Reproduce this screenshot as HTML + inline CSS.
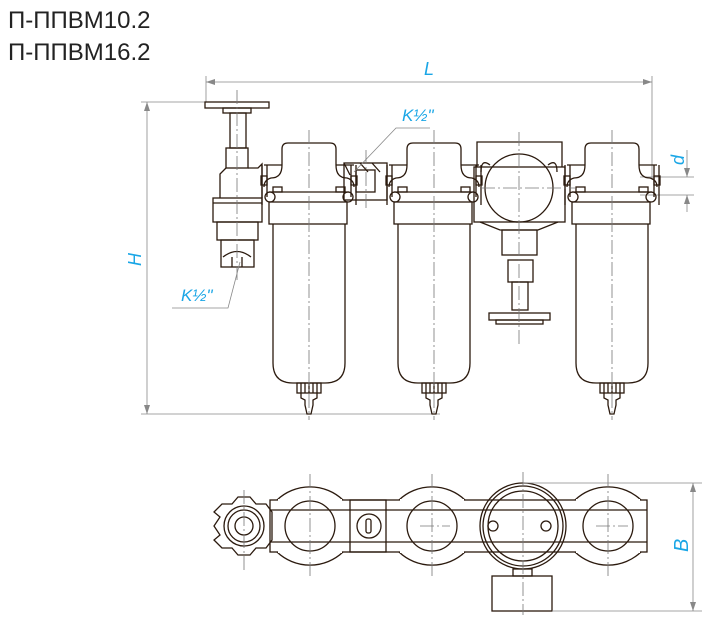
<!DOCTYPE html>
<html><head><meta charset="utf-8"><style>
html,body{margin:0;padding:0;background:#fff;}
svg{display:block}
.k{fill:none;stroke:#2b1a0e;stroke-width:1.3}
.c{fill:none;stroke:#777;stroke-width:0.8;stroke-dasharray:14 3 2 3}
.d{fill:none;stroke:#888;stroke-width:0.8}
.t{font-family:"Liberation Sans",sans-serif;fill:#1aa6e6;font-style:italic}
</style></head><body>
<svg width="712" height="624" viewBox="0 0 712 624" xmlns="http://www.w3.org/2000/svg">
<defs>
<marker id="a" markerWidth="10" markerHeight="10" refX="9" refY="3" orient="auto-start-reverse" markerUnits="userSpaceOnUse"><path d="M0,0 L9,3 L0,6 z" fill="#888"/></marker>
<g id="filt">
 <path class="k" d="M-27,165 L-27,149 Q-27,143 -21,143 L21,143 Q27,143 27,149 L27,165"/>
 <path class="k" d="M-27,165 Q-27,178 -38,178 Q-45,180 -45,187 M27,165 Q27,178 38,178 Q45,180 45,187"/>
 <path class="k" d="M-27,165 L-45,165 M27,165 L45,165"/>
 <path class="k" d="M-47,165 L-47,205 M-42,165 L-42,197 M47,165 L47,205 M42,165 L42,197"/>
 <path class="k" d="M-40,192 L40,192"/>
 <rect class="k" x="-36" y="187" width="9" height="5"/><rect class="k" x="27" y="187" width="9" height="5"/>
 <rect class="k" x="-48" y="176" width="6" height="9"/><rect class="k" x="42" y="176" width="6" height="9"/>
 <circle class="k" cx="-39" cy="197" r="5"/><circle class="k" cx="39" cy="197" r="5"/>
 <rect class="k" x="-40" y="202" width="78" height="22"/>
 <path class="k" d="M-36,224 L-36,363 Q-36,383 -16,383 L16,383 Q36,383 36,363 L36,224"/>
 <rect class="k" x="-12" y="383" width="24" height="10"/>
 <path class="k" d="M-8,383 V393 M-4,383 V393 M0,383 V393 M4,383 V393 M8,383 V393"/>
 <path class="k" d="M-8,393 L-8,398 L-4,400 L-4,405 L-2,414 L2,414 L4,405 L4,400 L8,398 L8,393"/>
 <line class="c" x1="0" y1="130" x2="0" y2="420"/>
</g>
<g id="bot">
 <path class="k" d="M-33,500 A48,48 0 0 1 33,500 M-33,552 A48,48 0 0 0 33,552" fill="#fff"/>
 <rect x="-32" y="499" width="64" height="2" fill="#fff"/>
 <rect x="-32" y="551" width="64" height="2" fill="#fff"/>
 <circle class="k" cx="0" cy="526" r="25" fill="#fff"/>
 <line class="c" x1="0" y1="474" x2="0" y2="578"/>
</g>
</defs>
<text x="8" y="28" font-family="Liberation Sans,sans-serif" font-size="24" fill="#222">П-ППВМ10.2</text>
<text x="8" y="60" font-family="Liberation Sans,sans-serif" font-size="24" fill="#222">П-ППВМ16.2</text>

<line class="d" x1="206" y1="76" x2="206" y2="102"/>
<line class="d" x1="652" y1="76" x2="652" y2="180"/>
<line class="d" x1="206" y1="82" x2="652" y2="82" marker-start="url(#a)" marker-end="url(#a)"/>
<text class="t" x="424" y="75" font-size="18">L</text>
<line class="d" x1="141" y1="102" x2="232" y2="102"/>
<line class="d" x1="141" y1="414" x2="440" y2="414"/>
<line class="d" x1="147" y1="102" x2="147" y2="414" marker-start="url(#a)" marker-end="url(#a)"/>
<text class="t" font-size="18" transform="translate(141,266) rotate(-90)">H</text>
<line class="d" x1="640" y1="177" x2="694" y2="177"/>
<line class="d" x1="640" y1="195" x2="694" y2="195"/>
<line class="d" x1="687" y1="150" x2="687" y2="177" marker-end="url(#a)"/>
<line class="d" x1="687" y1="212" x2="687" y2="195" marker-end="url(#a)"/>
<text class="t" font-size="18" transform="translate(684,165) rotate(-90)">d</text>

<rect class="k" x="205" y="102" width="64" height="6"/>
<rect class="k" x="223" y="108" width="28" height="5"/>
<rect class="k" x="230" y="113" width="16" height="35"/>
<rect class="k" x="226" y="148" width="22" height="20"/>
<path class="k" d="M226,168 L220,174 L220,198 M248,168 L258,168 L262,164 L262,198"/>
<rect class="k" x="213" y="198" width="49" height="24"/>
<line class="k" x1="213" y1="203" x2="262" y2="203"/>
<rect class="k" x="217" y="222" width="41" height="18"/>
<rect class="k" x="221" y="240" width="33" height="27"/>
<path class="k" d="M223,257 Q237,246 251,257 M232,257 V267 M242,257 V267"/>
<line class="c" x1="237" y1="90" x2="237" y2="280"/>

<use href="#filt" transform="translate(309,0)"/>
<use href="#filt" transform="translate(434,0)"/>
<use href="#filt" transform="translate(612,0)"/>

<rect class="k" x="344" y="163" width="43" height="37"/>
<rect class="k" x="356" y="170" width="19" height="22"/>
<path class="k" d="M344,163 L350,175 M360,163 L368,172 M372,163 L380,172"/>
<path class="d" d="M354,172 L396,128 L430,128"/>
<text class="t" x="402" y="121" font-size="17">K½"</text>
<line class="c" x1="366" y1="150" x2="366" y2="210"/>

<path class="k" d="M477,167 L477,142 L562,142 L562,167"/>
<rect class="k" x="474" y="167" width="91" height="55"/>
<circle class="k" cx="519" cy="188" r="34" fill="#fff"/>
<path class="k" d="M481,172 Q481,158 490,165 M557,172 Q557,158 548,165"/>
<path class="k" d="M480,222 L500,230 L538,230 L558,222"/>
<rect class="k" x="502" y="230" width="35" height="25"/>
<rect class="k" x="508" y="260" width="25" height="22"/>
<rect class="k" x="512" y="282" width="16" height="28"/>
<rect class="k" x="489" y="313" width="61" height="7"/>
<rect class="k" x="496" y="320" width="47" height="4"/>
<line class="c" x1="519" y1="132" x2="519" y2="345"/>
<line class="c" x1="481" y1="188" x2="575" y2="188"/>

<path class="d" d="M240,262 L228,308 L172,308"/>
<text class="t" x="181" y="301" font-size="17">K½"</text>

<rect class="k" x="270" y="500" width="377" height="52"/>
<line class="k" x1="270" y1="510" x2="647" y2="510"/>
<line class="k" x1="270" y1="542" x2="647" y2="542"/>
<use href="#bot" transform="translate(310,0)"/>
<use href="#bot" transform="translate(432,0)"/>
<use href="#bot" transform="translate(608,0)"/>
<rect class="k" x="350" y="500" width="36" height="52" fill="#fff"/>
<circle class="k" cx="369" cy="526" r="12"/>
<rect class="k" x="366" y="519" width="5" height="14" rx="2"/>
<path class="k" d="M214,512 L222,504 L232,504 L238,497 L250,497 L256,504 L266,504 L272,512 L272,540 L266,548 L256,548 L250,555 L238,555 L232,548 L222,548 L214,540 L220,535 L214,526 L220,517 Z" fill="#fff"/>
<circle class="k" cx="244" cy="526" r="20"/>
<circle class="k" cx="244" cy="526" r="16"/>
<circle class="k" cx="244" cy="526" r="9"/>
<line class="c" x1="244" y1="490" x2="244" y2="572"/>
<circle class="k" cx="523" cy="526" r="43" fill="#fff"/>
<circle class="k" cx="523" cy="526" r="40"/>
<circle class="k" cx="523" cy="526" r="35"/>
<circle class="k" cx="493" cy="526" r="5"/>
<circle class="k" cx="546" cy="526" r="5"/>
<rect class="k" x="513" y="569" width="19" height="7"/>
<rect class="k" x="492" y="576" width="60" height="35"/>
<line class="c" x1="523" y1="472" x2="523" y2="615"/>
<line class="c" x1="420" y1="526" x2="450" y2="526"/>
<line class="c" x1="596" y1="526" x2="628" y2="526"/>
<line class="d" x1="523" y1="483" x2="702" y2="483"/>
<line class="d" x1="552" y1="611" x2="702" y2="611"/>
<line class="d" x1="693" y1="483" x2="693" y2="611" marker-start="url(#a)" marker-end="url(#a)"/>
<text class="t" font-size="20" transform="translate(688,552) rotate(-90)">B</text>
</svg>
</body></html>
